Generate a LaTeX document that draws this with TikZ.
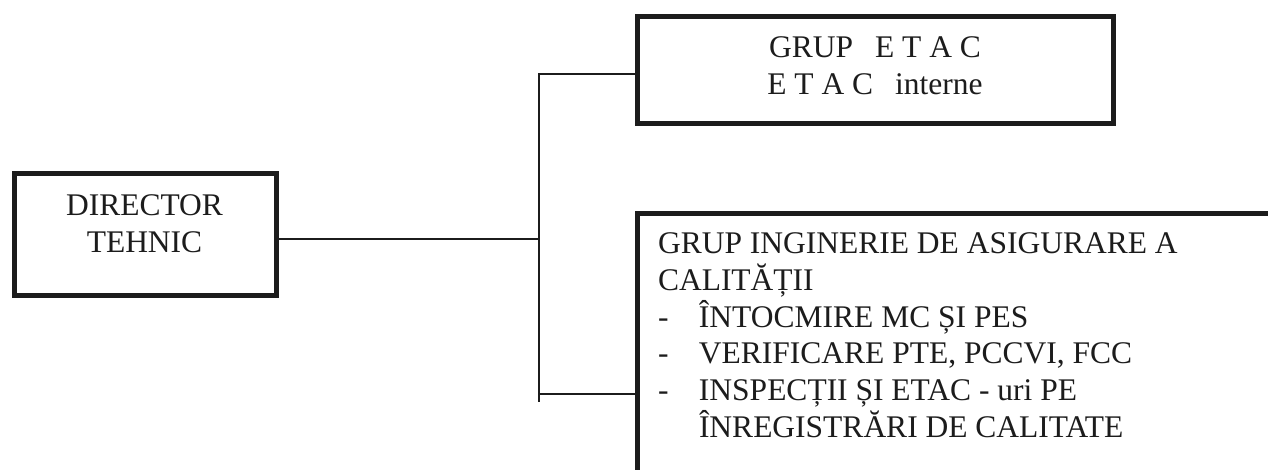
\documentclass[tikz,border=0pt]{standalone}
\usepackage{fontspec}
\setmainfont{Liberation Serif}
\definecolor{ink}{HTML}{1C1C1C}
\begin{document}
\begin{tikzpicture}[x=1pt,y=-1pt,
  box/.style={draw=ink, line width=5pt, outer sep=0pt, inner sep=0pt},
  conn/.style={draw=ink, line width=1.8pt},
  txt/.style={inner sep=0pt, outer sep=0pt, text=ink, font=\fontsize{31.5}{37}\selectfont}]
\clip (0,0) rectangle (1268,470);
\fill[white] (0,0) rectangle (1268,470);
% boxes
\node[box, minimum width=262pt, minimum height=121pt, anchor=north west] (dir) at (14,174) {};
\node[txt, align=center, anchor=north] (dirtext) at (144.5,194.7) {DIRECTOR\\TEHNIC};
\node[box, minimum width=476pt, minimum height=107pt, anchor=north west] (etac) at (637,17) {};
\node[txt, align=center, anchor=north] (etactext) at (875,36.2) {GRUP\hspace{0.45em} E T A C\\E T A C\hspace{0.45em} interne};
\node[box, minimum width=700pt, minimum height=320pt, anchor=north west] (qa) at (637,214) {};
\node[txt, align=left, anchor=north west, font=\fontsize{31.5}{36.8}\selectfont] (qatext) at (658,232.7)
  {GRUP INGINERIE DE ASIGURARE A\\
   CALITĂȚII\\
   \makebox[41pt][l]{-}ÎNTOCMIRE MC ȘI PES\\
   \makebox[41pt][l]{-}VERIFICARE PTE, PCCVI, FCC\\
   \makebox[41pt][l]{-}INSPECȚII ȘI ETAC - uri PE\\
   \hspace*{41pt}ÎNREGISTRĂRI DE CALITATE};
% connectors
\coordinate (vtop) at (539,74);
\coordinate (vmid) at (539,239);
\coordinate (vlow) at (539,394);
\coordinate (vend) at (539,402);
\draw[conn] (etac.west |- vtop) -- (vtop) -- (vend);
\draw[conn] (dir.east |- vmid) -- (vmid);
\draw[conn] (vlow) -- (qa.west |- vlow);
\end{tikzpicture}
\end{document}
